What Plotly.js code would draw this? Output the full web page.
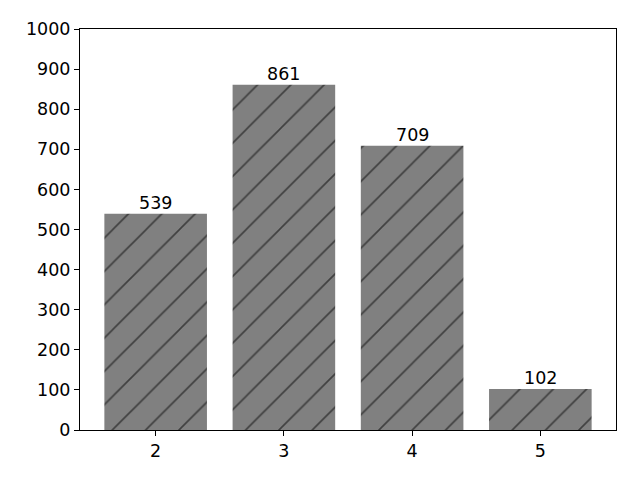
<!DOCTYPE html>
<html><head><meta charset="utf-8">
<script src="https://cdn.plot.ly/plotly-3.0.1.min.js"></script>
<style>html,body{margin:0;padding:0;background:#fff}</style>
</head><body>
<div id="chart" style="width:640px;height:480px"></div>
<script>
const categories = [2, 3, 4, 5];
const counts = [539, 861, 709, 102];
const yTicks = [0,100,200,300,400,500,600,700,800,900,1000];

const font = {family: 'DejaVu Sans', size: 17.5, color: '#000'};
const trace = {
  type: 'bar',
  x: categories,
  y: counts,
  width: 0.8,
  marker: {
    color: '#808080',
    line: {width: 0},
    pattern: {shape: '/', size: 23.57, solidity: 0.07, fgcolor: '#000', bgcolor: '#808080', fillmode: 'overlay'}
  },
  hoverinfo: 'none'
};
const annotations = categories.map((c, i) => ({
  x: c, y: counts[i], xref: 'x', yref: 'y',
  text: String(counts[i]), showarrow: false,
  yanchor: 'bottom', xanchor: 'center', yshift: -1,
  font: font
}));
const layout = {
  width: 640, height: 480,
  margin: {l: 80, r: 24, t: 29, b: 50, pad: 0},
  paper_bgcolor: '#fff', plot_bgcolor: '#fff',
  showlegend: false,
  font: font,
  xaxis: {
    range: [1.41, 5.59], tickvals: categories, ticktext: categories.map(String),
    ticks: 'outside', ticklen: 5, tickwidth: 1, tickcolor: '#000',
    showgrid: false, zeroline: false, showline: true, linecolor: '#000', linewidth: 1, mirror: true,
    tickfont: font
  },
  yaxis: {
    range: [0, 1000], tickvals: yTicks,
    ticks: 'outside', ticklen: 5, tickwidth: 1, tickcolor: '#000',
    showgrid: false, zeroline: false, showline: true, linecolor: '#000', linewidth: 1, mirror: true,
    tickfont: font
  },
  annotations: annotations
};
Plotly.newPlot('chart', [trace], layout, {staticPlot: true});
</script>
</body></html>
